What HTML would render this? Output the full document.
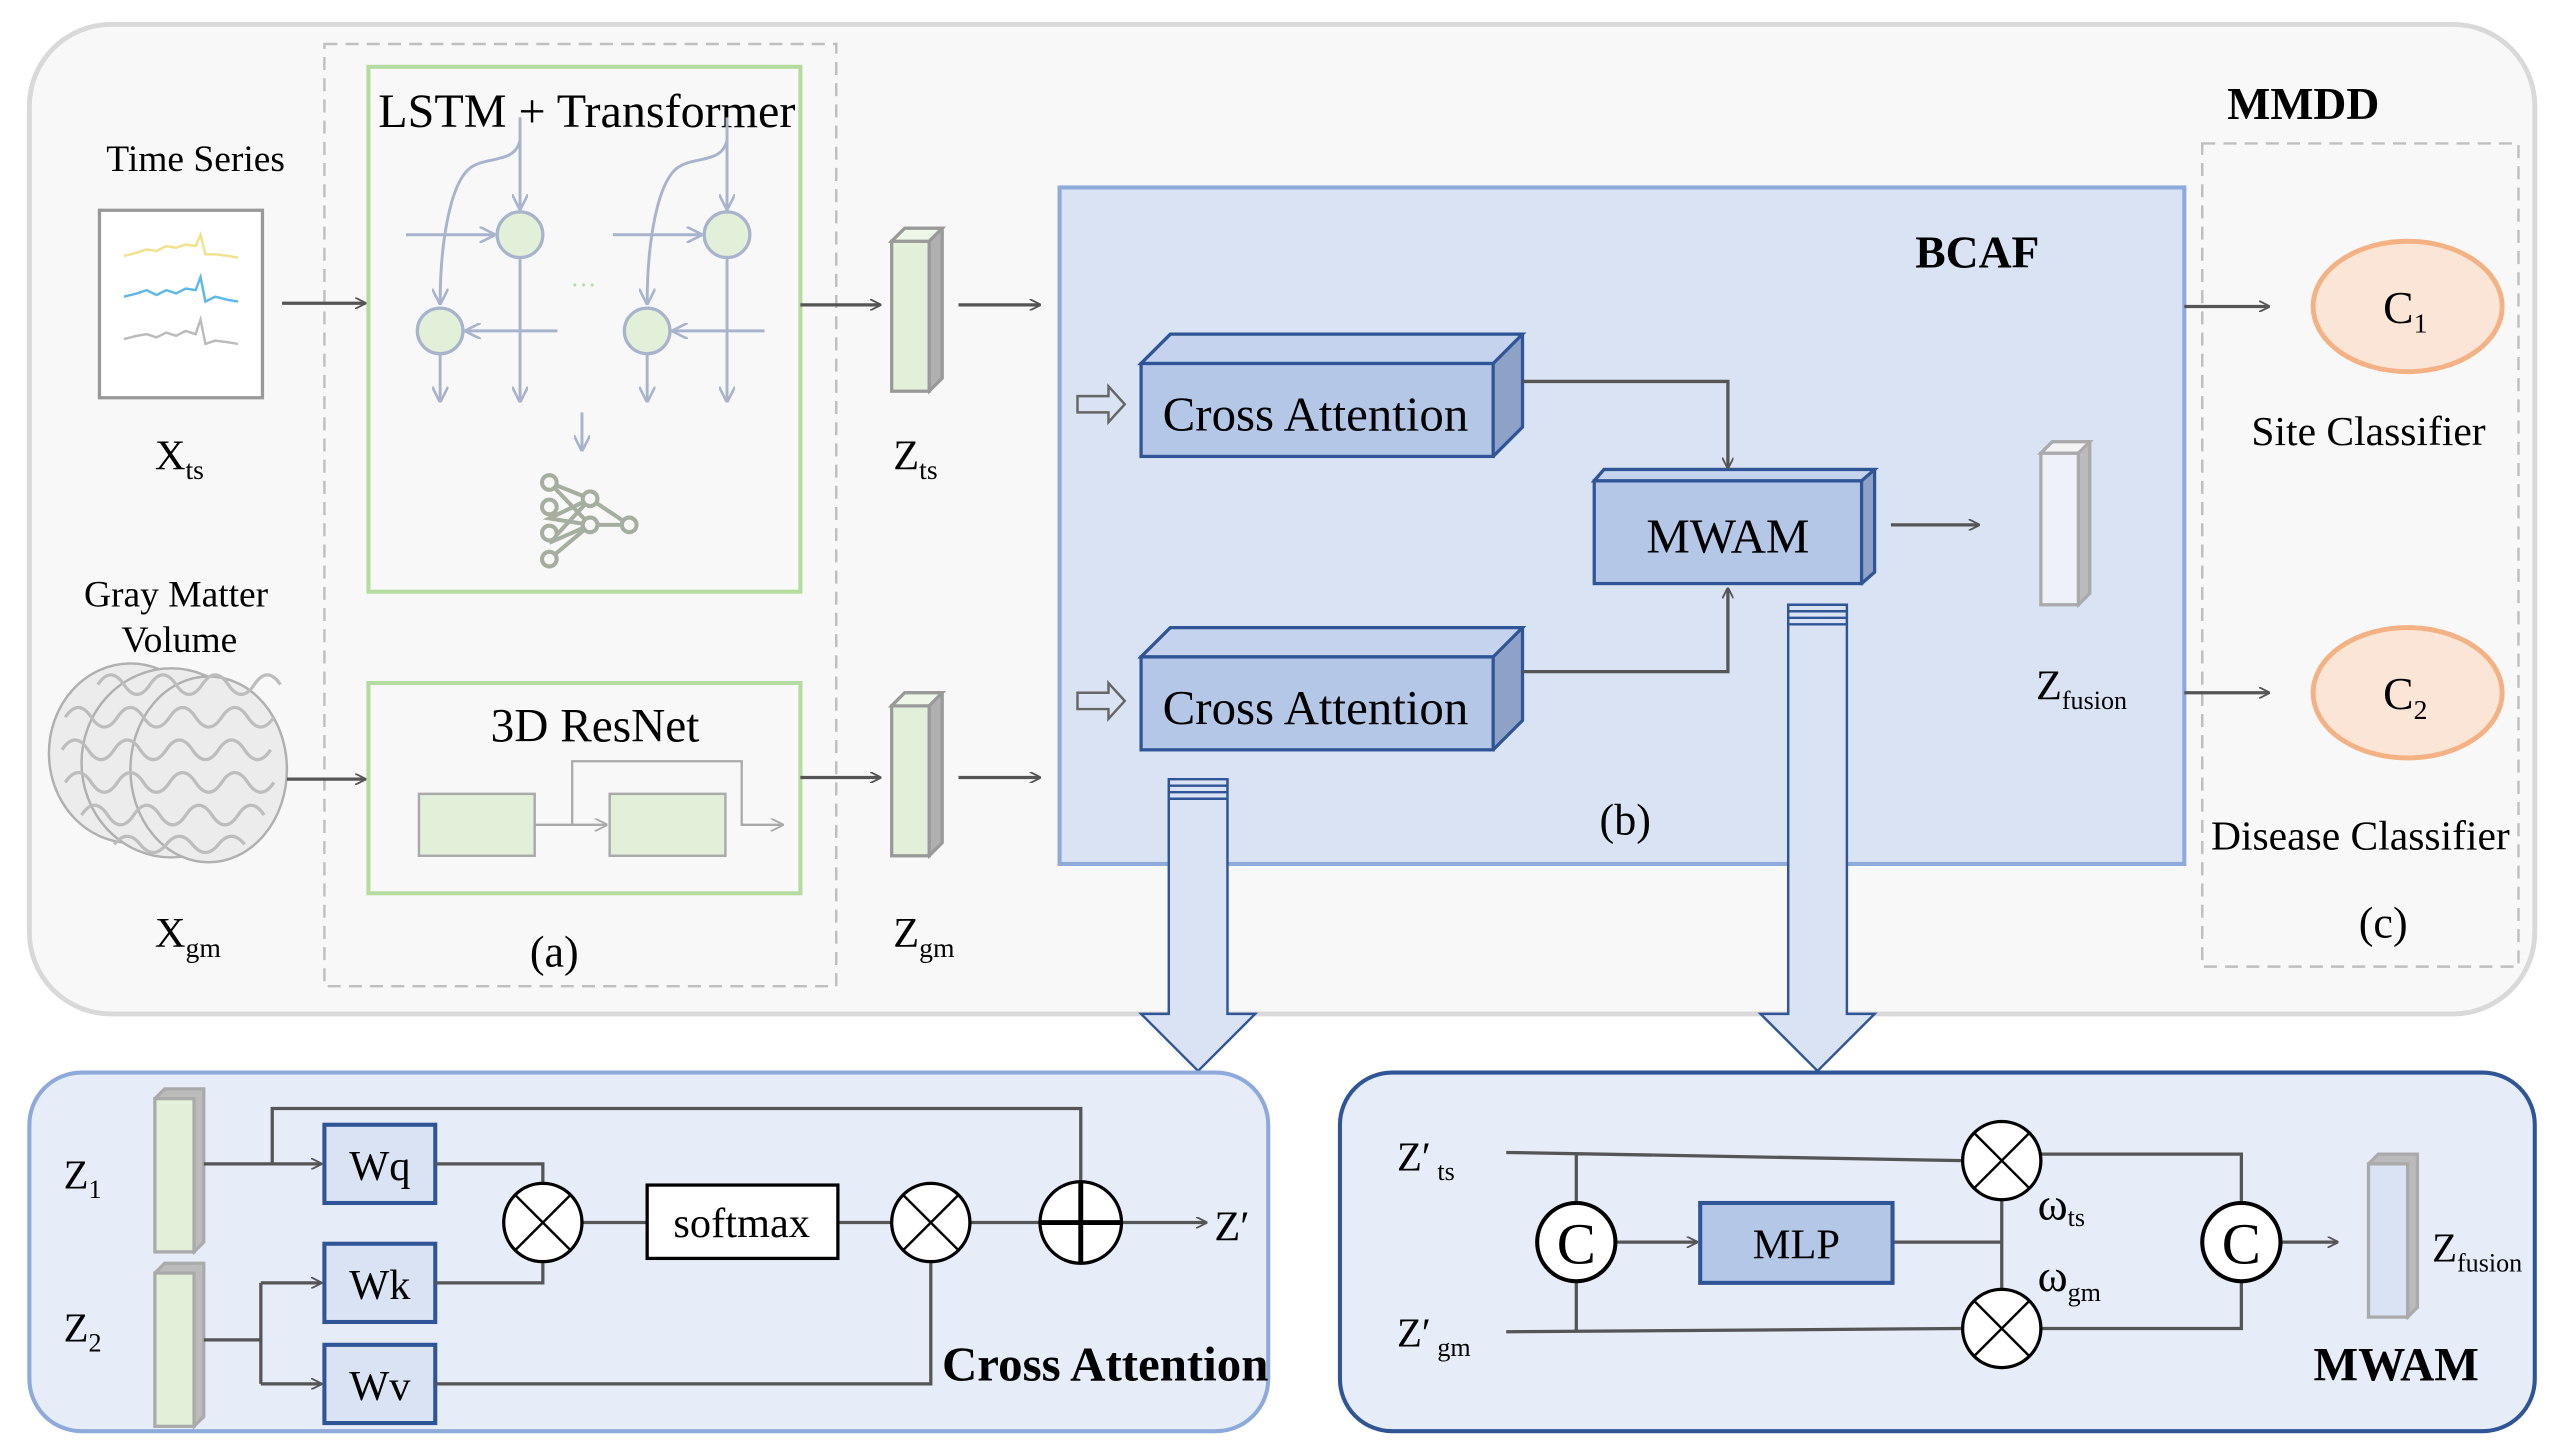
<!DOCTYPE html>
<html><head><meta charset="utf-8"><style>
html,body{margin:0;padding:0;background:#fff}
svg{display:block}
text{font-family:"Liberation Serif",serif;fill:#000}
</style></head><body>
<svg width="2556" height="1455" viewBox="0 0 1568 892.6" xmlns="http://www.w3.org/2000/svg">
<defs>
<marker id="a" viewBox="0 0 10 10" refX="9" refY="5" markerWidth="7" markerHeight="7" orient="auto" markerUnits="userSpaceOnUse"><path d="M0,0 L10,5 L0,10" fill="none" stroke="#555" stroke-width="1.6"/></marker>
<marker id="b" viewBox="0 0 10 10" refX="9" refY="5" markerWidth="10" markerHeight="10" orient="auto" markerUnits="userSpaceOnUse"><path d="M0,0 L10,5 L0,10" fill="none" stroke="#a8b4cc" stroke-width="1.6"/></marker>
<marker id="c" viewBox="0 0 10 10" refX="9" refY="5" markerWidth="8" markerHeight="8" orient="auto" markerUnits="userSpaceOnUse"><path d="M0,0 L10,5 L0,10" fill="none" stroke="#aaa" stroke-width="1.4"/></marker>
</defs>
<rect x="0" y="0" width="1568" height="893" fill="#fff"/>
<!-- outer -->
<rect x="18" y="15" width="1537" height="607" rx="50" fill="#f8f8f8" stroke="#d9d9d9" stroke-width="3"/>
<rect x="199" y="27" width="314" height="578" fill="none" stroke="#bfbfbf" stroke-width="1.5" stroke-dasharray="8,5"/>
<rect x="1351" y="88" width="194" height="505" fill="none" stroke="#bfbfbf" stroke-width="1.5" stroke-dasharray="8,5"/>
<text x="1413" y="73" font-size="28" font-weight="bold" text-anchor="middle">MMDD</text>
<!-- LSTM box -->
<rect x="226" y="41" width="265" height="322" fill="#f8f8f8" stroke="#b5dca0" stroke-width="2.5"/>
<text x="360" y="78" font-size="29.5" text-anchor="middle">LSTM + Transformer</text>
<g stroke="#a8b4cc" stroke-width="1.8" fill="none">
<path d="M319,72 V128" marker-end="url(#b)"/><path d="M319,86 C316,100 300,96 290,102 C276,110 270,150 270,186" marker-end="url(#b)"/>
<path d="M249,144 H303" marker-end="url(#b)"/><path d="M319,157 V246" marker-end="url(#b)"/>
<path d="M342,203 H286" marker-end="url(#b)"/><path d="M270,216 V246" marker-end="url(#b)"/>
<path d="M446,72 V128" marker-end="url(#b)"/><path d="M446,86 C443,100 427,96 417,102 C403,110 397,150 397,186" marker-end="url(#b)"/>
<path d="M376,144 H430" marker-end="url(#b)"/><path d="M446,157 V246" marker-end="url(#b)"/>
<path d="M469,203 H413" marker-end="url(#b)"/><path d="M397,216 V246" marker-end="url(#b)"/>
<path d="M357,253 V276" marker-end="url(#b)"/>
</g>
<g fill="#e2efd9" stroke="#a8b4cc" stroke-width="2">
<circle cx="319" cy="144" r="14"/><circle cx="270" cy="203" r="14"/><circle cx="446" cy="144" r="14"/><circle cx="397" cy="203" r="14"/></g>
<text x="358" y="180" font-size="16" style="fill:#b5dca0" text-anchor="middle">···</text>
<g stroke="#a6aea0" stroke-width="2.5" fill="none">
<path d="M337,296 L362,306 L337,318 L362,322 L386,322 M337,296 L362,322 M337,318 L362,306 M337,333 L362,306 M337,333 L362,322 M337,343 L362,322 M362,306 L386,322"/>
<circle cx="337" cy="296" r="4.5" fill="#f8f8f8"/><circle cx="337" cy="311" r="4.5" fill="#f8f8f8"/><circle cx="337" cy="327" r="4.5" fill="#f8f8f8"/><circle cx="337" cy="343" r="4.5" fill="#f8f8f8"/><circle cx="362" cy="306" r="4.5" fill="#f8f8f8"/><circle cx="362" cy="322" r="4.5" fill="#f8f8f8"/><circle cx="386" cy="322" r="4.5" fill="#f8f8f8"/></g>
<!-- time series -->
<text x="120" y="105" font-size="23" text-anchor="middle">Time Series</text>
<rect x="61" y="129" width="100" height="115" fill="#fff" stroke="#999" stroke-width="2"/>
<polyline points="76,157 84,155 90,153 96,154 102,151 108,152 114,150 120,151 123,144 126,156 132,156 140,157 146,158" fill="none" stroke="#f2e18a" stroke-width="1.5"/>
<polyline points="76,182 84,180 90,178 96,181 102,178 108,180 114,177 120,178 123,170 126,185 132,182 140,184 146,185" fill="none" stroke="#5cb8ea" stroke-width="1.5"/>
<polyline points="76,208 84,206 90,205 96,207 102,204 108,206 114,203 120,205 123,196 126,211 132,209 140,210 146,211" fill="none" stroke="#bbb" stroke-width="1.5"/>
<text x="95" y="288" font-size="26">X<tspan font-size="17" dy="6">ts</tspan></text>
<path d="M173,186 H224" stroke="#555" stroke-width="2" marker-end="url(#a)"/>
<!-- gray matter -->
<text x="108" y="372" font-size="23" text-anchor="middle">Gray Matter</text>
<text x="110" y="400" font-size="23" text-anchor="middle">Volume</text>
<g fill="#ececec" stroke="#b0b0b0" stroke-width="1.5">
<ellipse cx="80" cy="462" rx="50" ry="55"/><ellipse cx="105" cy="468" rx="55" ry="58"/><ellipse cx="128" cy="472" rx="48" ry="57"/></g>
<g fill="none" stroke="#bdbdbd" stroke-width="2"><path d="M40,440 q8,-12 16,0 t16,0 t16,0 t16,0 t16,0 t16,0 t16,0 t16,0 M38,460 q8,-12 16,0 t16,0 t16,0 t16,0 t16,0 t16,0 t16,0 t16,0 M40,480 q8,-12 16,0 t16,0 t16,0 t16,0 t16,0 t16,0 t16,0 t16,0 M50,500 q8,-12 16,0 t16,0 t16,0 t16,0 t16,0 t16,0 t16,0 M60,420 q8,-12 16,0 t16,0 t16,0 t16,0 t16,0 t16,0 t16,0 M70,518 q8,-10 16,0 t16,0 t16,0 t16,0 t16,0"/></g>
<text x="95" y="581" font-size="26">X<tspan font-size="17" dy="6">gm</tspan></text>
<path d="M176,478 H224" stroke="#555" stroke-width="2" marker-end="url(#a)"/>
<!-- ResNet -->
<rect x="226" y="419" width="265" height="129" fill="#f8f8f8" stroke="#b5dca0" stroke-width="2.5"/>
<text x="365" y="455" font-size="29" text-anchor="middle">3D ResNet</text>
<rect x="257" y="487" width="71" height="38" fill="#e2efd9" stroke="#aaa" stroke-width="1.5"/>
<rect x="374" y="487" width="71" height="38" fill="#e2efd9" stroke="#aaa" stroke-width="1.5"/>
<path d="M328,506 H372" stroke="#aaa" stroke-width="1.4" marker-end="url(#c)"/>
<path d="M351,506 V467 H455 V506 H480" fill="none" stroke="#aaa" stroke-width="1.4" marker-end="url(#c)"/>
<text x="340" y="593" font-size="27" text-anchor="middle">(a)</text>
<!-- Z bars -->
<g stroke="#999" stroke-width="2">
<path d="M547,148 L555,140 H578 V232 L570,240 Z" fill="#b0b0b0"/><rect x="547" y="148" width="23" height="92" fill="#e2efd9"/><path d="M547,148 L555,140 H578 L570,148Z" fill="#eef6e8"/>
<path d="M547,433 L555,425 H578 V517 L570,525 Z" fill="#b0b0b0"/><rect x="547" y="433" width="23" height="92" fill="#e2efd9"/><path d="M547,433 L555,425 H578 L570,433Z" fill="#eef6e8"/>
</g>
<text x="548" y="288" font-size="26">Z<tspan font-size="17" dy="6">ts</tspan></text>
<text x="548" y="581" font-size="26">Z<tspan font-size="17" dy="6">gm</tspan></text>
<g stroke="#555" stroke-width="2"><path d="M491,187 H540" marker-end="url(#a)"/><path d="M588,187 H638" marker-end="url(#a)"/><path d="M491,477 H540" marker-end="url(#a)"/><path d="M588,477 H638" marker-end="url(#a)"/></g>
<!-- BCAF -->
<rect x="650" y="115" width="690" height="415" fill="#dae3f3" stroke="#8eaadb" stroke-width="2.5"/>
<text x="1213" y="164" font-size="28" font-weight="bold" text-anchor="middle">BCAF</text>
<g stroke="#666" stroke-width="1.5" fill="none"><path d="M661,243 H680 V237 L690,248 L680,259 V253 H661Z"/><path d="M661,425 H680 V419 L690,430 L680,441 V435 H661Z"/></g>
<g stroke="#2f5597" stroke-width="2">
<path d="M700,223 L718,205 H934 V262 L916,280 Z" fill="#8ea2c8"/><path d="M700,223 L718,205 H934 L916,223Z" fill="#c5d3ee"/><rect x="700" y="223" width="216" height="57" fill="#b4c7e7"/>
<path d="M700,403 L718,385 H934 V442 L916,460 Z" fill="#8ea2c8"/><path d="M700,403 L718,385 H934 L916,403Z" fill="#c5d3ee"/><rect x="700" y="403" width="216" height="57" fill="#b4c7e7"/>
<path d="M978,295 L984,288 H1150 V351 L1142,358 Z" fill="#8ea2c8"/><path d="M978,295 L984,288 H1150 L1142,295Z" fill="#c5d3ee"/><rect x="978" y="295" width="164" height="63" fill="#b4c7e7"/>
</g>
<text x="807" y="264" font-size="30" text-anchor="middle">Cross Attention</text>
<text x="807" y="444" font-size="30" text-anchor="middle">Cross Attention</text>
<text x="1060" y="339" font-size="30" text-anchor="middle">MWAM</text>
<g stroke="#555" stroke-width="2" fill="none"><path d="M934,234 H1060 V287" marker-end="url(#a)"/><path d="M934,412 H1060 V361" marker-end="url(#a)"/><path d="M1160,322 H1214" marker-end="url(#a)"/><path d="M1340,188 H1392" marker-end="url(#a)"/><path d="M1340,425 H1392" marker-end="url(#a)"/></g>
<g stroke="#aaa" stroke-width="2"><path d="M1252,278 L1259,271 H1282 V364 L1275,371Z" fill="#bbb"/><rect x="1252" y="278" width="23" height="93" fill="#eef1f8"/><path d="M1252,278 L1259,271 H1282 L1275,278Z" fill="#f4f4f4"/></g>
<text x="1249" y="429" font-size="26">Z<tspan font-size="16" dy="6">fusion</tspan></text>
<text x="997" y="512" font-size="27" text-anchor="middle">(b)</text>
<!-- classifiers -->
<ellipse cx="1477" cy="188" rx="58" ry="40" fill="#fbe5d6" stroke="#f4b183" stroke-width="3"/>
<ellipse cx="1477" cy="425" rx="58" ry="40" fill="#fbe5d6" stroke="#f4b183" stroke-width="3"/>
<text x="1462" y="198" font-size="28">C<tspan font-size="17" dy="6">1</tspan></text>
<text x="1462" y="435" font-size="28">C<tspan font-size="17" dy="6">2</tspan></text>
<text x="1453" y="273" font-size="25.5" text-anchor="middle">Site Classifier</text>
<text x="1448" y="521" font-size="25.5" text-anchor="middle">Disease Classifier</text>
<text x="1462" y="575" font-size="27" text-anchor="middle">(c)</text>
<!-- big arrows -->
<g fill="#dae3f3" stroke="#2f5597" stroke-width="1.5">
<path d="M717,478 H753 V622 H770 L735,657 L700,622 H717 Z"/>
<path d="M1097,371 H1133 V622 H1150 L1115,657 L1080,622 H1097 Z"/></g>
<g stroke="#2f5597" stroke-width="1.5"><path d="M717,482 H753 M717,486 H753 M717,490 H753"/><path d="M1097,375 H1133 M1097,379 H1133 M1097,383 H1133"/></g>
<!-- bottom left panel -->
<rect x="18" y="658" width="760" height="220" rx="32" fill="#e6ecf8" stroke="#8eaadb" stroke-width="2.5"/>
<g stroke="#aaa" stroke-width="2">
<path d="M95,674 L101,668 H125 V762 L119,768Z" fill="#bbb"/><rect x="95" y="674" width="24" height="94" fill="#e2efd9"/>
<path d="M95,781 L101,775 H125 V869 L119,875Z" fill="#bbb"/><rect x="95" y="781" width="24" height="94" fill="#e2efd9"/></g>
<text x="39" y="729" font-size="25">Z<tspan font-size="16" dy="6">1</tspan></text>
<text x="39" y="823" font-size="25">Z<tspan font-size="16" dy="6">2</tspan></text>
<g fill="#dae3f3" stroke="#2f5597" stroke-width="2.5"><rect x="199" y="690" width="68" height="48"/><rect x="199" y="763" width="68" height="48"/><rect x="199" y="825" width="68" height="48"/></g>
<text x="233" y="724" font-size="26" text-anchor="middle">Wq</text>
<text x="233" y="797" font-size="26" text-anchor="middle">Wk</text>
<text x="233" y="859" font-size="26" text-anchor="middle">Wv</text>
<g stroke="#555" stroke-width="2" fill="none">
<path d="M125,714 H197" marker-end="url(#a)"/><path d="M167,714 V680 H663 V725"/>
<path d="M125,822 H160 M160,787 V849"/><path d="M160,787 H197" marker-end="url(#a)"/><path d="M160,849 H197" marker-end="url(#a)"/>
<path d="M267,714 H333 V726"/><path d="M267,787 H333 V774"/>
<path d="M357,750 H397 M514,750 H547"/><path d="M267,849 H571 V774"/><path d="M595,750 H638"/>
<path d="M688,750 H740" marker-end="url(#a)"/></g>
<g fill="#fff" stroke="#000" stroke-width="2"><circle cx="333" cy="750" r="24"/><circle cx="571" cy="750" r="24"/><circle cx="663" cy="750" r="25"/></g>
<g stroke="#000" stroke-width="1.5"><path d="M316,733 L350,767 M350,733 L316,767 M554,733 L588,767 M588,733 L554,767"/><path d="M663,725 V775 M638,750 H688" stroke-width="3"/></g>
<rect x="397" y="727" width="117" height="45" fill="#fff" stroke="#000" stroke-width="2"/>
<text x="455" y="759" font-size="26" text-anchor="middle">softmax</text>
<text x="745" y="761" font-size="26">Z′</text>
<text x="678" y="847" font-size="30" font-weight="bold" text-anchor="middle">Cross Attention</text>
<!-- bottom right -->
<rect x="822" y="658" width="733" height="220" rx="32" fill="#e6ecf8" stroke="#2f5597" stroke-width="2.5"/>
<text x="857" y="718" font-size="25">Z′<tspan font-size="16" dy="6"> ts</tspan></text>
<text x="857" y="826" font-size="25">Z′<tspan font-size="16" dy="6"> gm</tspan></text>
<g stroke="#555" stroke-width="2" fill="none">
<path d="M924,707 L1204,712 M924,817 L1204,815 M967,707 V738 M967,786 V817"/>
<path d="M991,762 H1041" marker-end="url(#a)"/><path d="M1161,762 H1228 M1228,736 V791"/>
<path d="M1252,708 H1375 V738 M1252,815 H1375 V786"/><path d="M1399,762 H1434" marker-end="url(#a)"/></g>
<g fill="#fff" stroke="#000" stroke-width="2.5"><circle cx="967" cy="762" r="24"/><circle cx="1375" cy="762" r="24"/></g>
<text x="967" y="775" font-size="36" text-anchor="middle">C</text>
<text x="1375" y="775" font-size="36" text-anchor="middle">C</text>
<g fill="#fff" stroke="#000" stroke-width="2"><circle cx="1228" cy="712" r="24"/><circle cx="1228" cy="815" r="24"/></g>
<g stroke="#000" stroke-width="1.5"><path d="M1211,695 L1245,729 M1245,695 L1211,729 M1211,798 L1245,832 M1245,798 L1211,832"/></g>
<rect x="1043" y="738" width="118" height="49" fill="#b4c7e7" stroke="#2f5597" stroke-width="2.5"/>
<text x="1102" y="772" font-size="26" text-anchor="middle">MLP</text>
<text x="1250" y="748" font-size="28">ω<tspan font-size="16" dy="4">ts</tspan></text>
<text x="1250" y="792" font-size="28">ω<tspan font-size="16" dy="6">gm</tspan></text>
<g stroke="#aaa" stroke-width="2"><path d="M1453,714 L1459,708 H1483 V802 L1477,808Z" fill="#bbb"/><rect x="1453" y="714" width="24" height="94" fill="#dae3f3"/></g>
<text x="1492" y="774" font-size="25">Z<tspan font-size="16" dy="6">fusion</tspan></text>
<text x="1470" y="847" font-size="29" font-weight="bold" text-anchor="middle">MWAM</text>
</svg>
</body></html>
